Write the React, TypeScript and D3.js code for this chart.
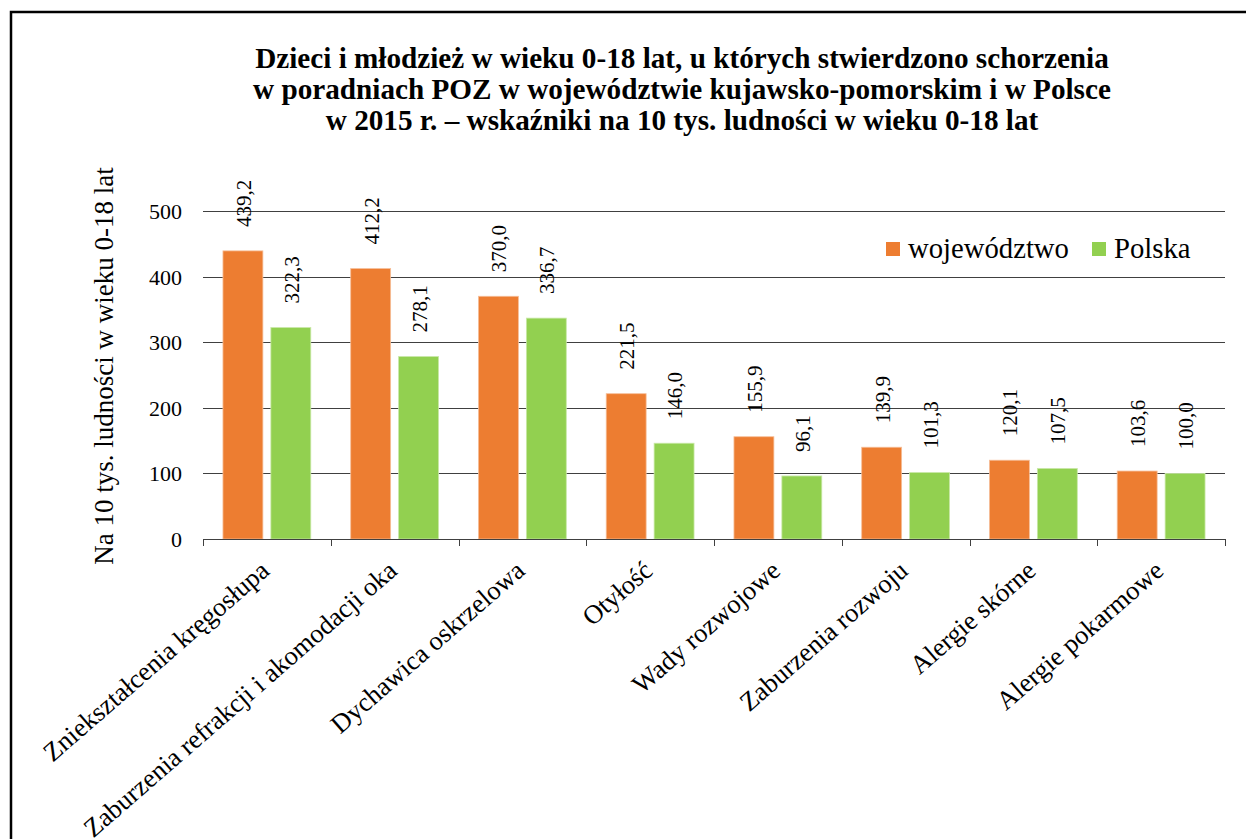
import React, { useRef, useEffect } from 'react';
import * as d3 from 'd3';

const categories = [
    "Zniekształcenia kręgosłupa",
    "Zaburzenia refrakcji i akomodacji oka",
    "Dychawica oskrzelowa",
    "Otyłość",
    "Wady rozwojowe",
    "Zaburzenia rozwoju",
    "Alergie skórne",
    "Alergie pokarmowe",
];
const seriesNames = ["województwo", "Polska"];
const wojewodztwo = [439.2, 412.2, 370.0, 221.5, 155.9, 139.9, 120.1, 103.6];
const polska = [322.3, 278.1, 336.7, 146.0, 96.1, 101.3, 107.5, 100.0];
const yTicks = [0, 100, 200, 300, 400, 500];
const titleLines = [
    "Dzieci i młodzież w wieku 0-18 lat, u których stwierdzono schorzenia",
    "w poradniach POZ w województwie kujawsko-pomorskim i w Polsce",
    "w 2015 r. – wskaźniki na 10 tys. ludności w wieku 0-18 lat",
];
const yTitle = "Na 10 tys. ludności w wieku 0-18 lat";

const colors = ["#ED7D31", "#92D050"];
const edgeColors = ["#F6BE98", "#C9E8A7"];
const font = "'Liberation Serif', 'Times New Roman', serif";

const App = () => {
    const svgRef = useRef(null);

    useEffect(() => {
        const svgWidth = 1246;
        const svgHeight = 839;
        const margin = { top: 211, right: 21, left: 203 };
        const width = svgWidth - margin.left - margin.right;
        const height = 539 - margin.top;

        const svg = d3.select(svgRef.current)
            .attr("width", svgWidth)
            .attr("height", svgHeight);
        svg.selectAll("*").remove();

        svg.append("rect")
            .attr("x", 11).attr("y", 12)
            .attr("width", 1400).attr("height", 1000)
            .attr("fill", "white")
            .attr("stroke", "black")
            .attr("stroke-width", 2.5);

        // title
        svg.append("text")
            .attr("text-anchor", "middle")
            .attr("font-family", font)
            .attr("font-weight", "bold")
            .attr("font-size", 29.2)
            .selectAll("tspan")
            .data(titleLines)
            .enter()
            .append("tspan")
            .attr("x", 682)
            .attr("y", (d, i) => 67.5 + i * 31)
            .text((d) => d);

        const g = svg.append("g").attr("transform", `translate(${margin.left}, ${margin.top})`);

        const x0 = d3.scaleBand().domain(categories).range([0, width]);
        const x1 = d3.scaleBand()
            .domain(seriesNames)
            .range([0, x0.bandwidth()])
            .paddingInner(1 / 6)
            .paddingOuter(20 / 48);
        const yScale = d3.scaleLinear().domain([0, 500]).range([height, 0]);

        // gridlines
        g.selectAll("line.grid")
            .data(yTicks.filter((d) => d > 0))
            .enter()
            .append("line")
            .attr("x1", 0).attr("x2", width)
            .attr("y1", (d) => Math.round(yScale(d)) + 0.5)
            .attr("y2", (d) => Math.round(yScale(d)) + 0.5)
            .attr("stroke", "#404040")
            .attr("stroke-width", 1);

        const seriesValues = [wojewodztwo, polska];

        seriesValues.forEach((values, s) => {
            const rows = categories.map((c, i) => ({ cat: c, value: values[i] }));

            g.selectAll(`rect.s${s}`)
                .data(rows)
                .enter()
                .append("rect")
                .attr("x", (d) => x0(d.cat) + x1(seriesNames[s]))
                .attr("y", (d) => yScale(d.value))
                .attr("width", x1.bandwidth())
                .attr("height", (d) => height - yScale(d.value))
                .attr("fill", colors[s])
                .attr("stroke", edgeColors[s])
                .attr("stroke-width", 0.8);

            // value labels, decimal comma
            g.selectAll(`text.v${s}`)
                .data(rows)
                .enter()
                .append("text")
                .attr("transform", (d) => {
                    const cx = x0(d.cat) + x1(seriesNames[s]) + x1.bandwidth() / 2 + 8;
                    return `translate(${cx}, ${yScale(d.value) - 24}) rotate(-90)`;
                })
                .attr("font-family", font)
                .attr("font-size", 21)
                .attr("fill", "black")
                .text((d) => d3.format(".1f")(d.value).replace(".", ","));
        });

        // x axis
        g.append("line")
            .attr("x1", 0).attr("x2", width)
            .attr("y1", height + 0.5).attr("y2", height + 0.5)
            .attr("stroke", "#404040");
        const tickXs = categories.map((c) => x0(c)).concat([width]);
        g.selectAll("line.xtick")
            .data(tickXs)
            .enter()
            .append("line")
            .attr("x1", (d) => Math.round(d) + 0.5).attr("x2", (d) => Math.round(d) + 0.5)
            .attr("y1", height).attr("y2", height + 7)
            .attr("stroke", "#404040");

        g.selectAll("text.xlab")
            .data(categories)
            .enter()
            .append("text")
            .attr("transform", (d) => `translate(${x0(d) + x0.bandwidth() / 2 + 4}, ${height + 34}) rotate(-41)`)
            .attr("text-anchor", "end")
            .attr("font-family", font)
            .attr("font-size", 26.5)
            .text((d) => d);

        // y axis labels
        g.selectAll("text.ylab")
            .data(yTicks)
            .enter()
            .append("text")
            .attr("x", -21)
            .attr("y", (d) => yScale(d) + 8)
            .attr("text-anchor", "end")
            .attr("font-family", font)
            .attr("font-size", 22)
            .text((d) => d);

        svg.append("text")
            .attr("transform", `translate(113, 366) rotate(-90)`)
            .attr("text-anchor", "middle")
            .attr("font-family", font)
            .attr("font-size", 27)
            .text(yTitle);

        // legend
        const legendItems = [
            { name: seriesNames[0], x: 886 },
            { name: seriesNames[1], x: 1092 },
        ];
        const lg = svg.append("g");
        legendItems.forEach((item, i) => {
            lg.append("rect")
                .attr("x", item.x).attr("y", 242)
                .attr("width", 14).attr("height", 14)
                .attr("fill", colors[i]);
            lg.append("text")
                .attr("x", item.x + 22).attr("y", 257.5)
                .attr("font-family", font)
                .attr("font-size", 28.7)
                .text(item.name);
        });
    }, []);

    return (
        <svg ref={svgRef} style={{ position: "absolute", left: 0, top: 0 }} />
    );
};

export default App;
